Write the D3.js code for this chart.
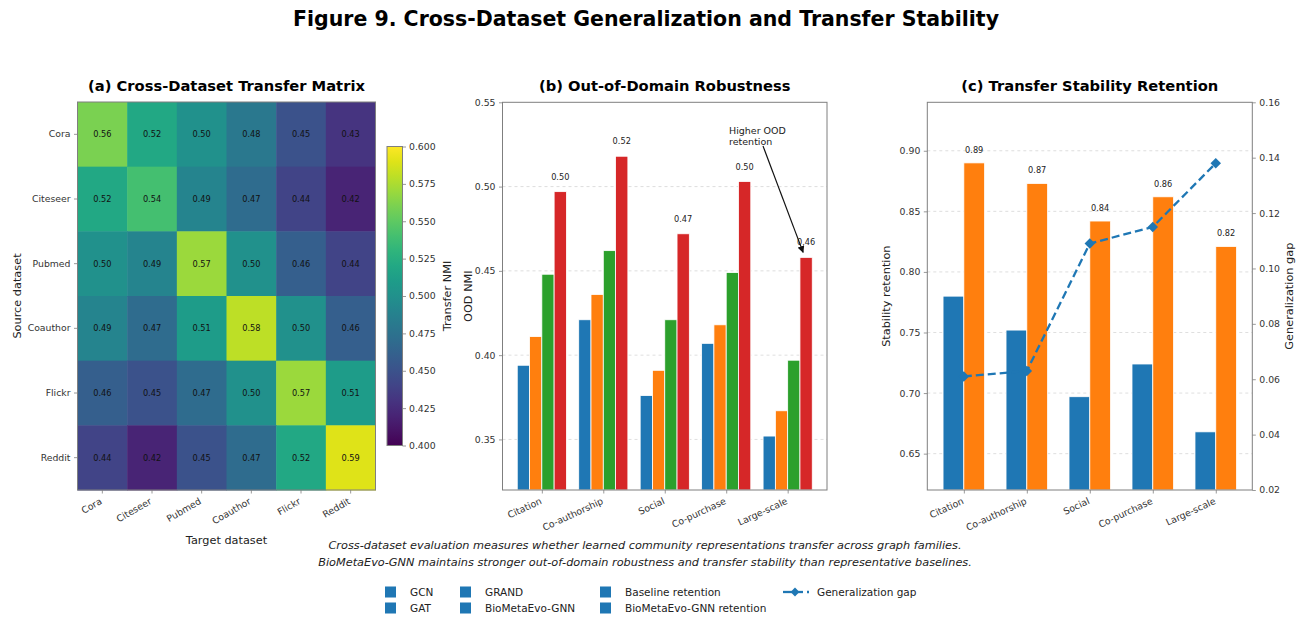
<!DOCTYPE html>
<html>
<head>
<meta charset="utf-8">
<script src="https://cdn.jsdelivr.net/npm/d3@7"></script>
<style>
  html, body { margin: 0; padding: 0; background: #fff; }
  text { font-family: "DejaVu Sans", sans-serif; }
</style>
</head>
<body>
<svg id="chart" width="1306" height="623"></svg>
<script>
// ---------------- DATA ----------------
const datasets = ["Cora", "Citeseer", "Pubmed", "Coauthor", "Flickr", "Reddit"];
const transferMatrix = [
  [0.56, 0.52, 0.50, 0.48, 0.45, 0.43],
  [0.52, 0.54, 0.49, 0.47, 0.44, 0.42],
  [0.50, 0.49, 0.57, 0.50, 0.46, 0.44],
  [0.49, 0.47, 0.51, 0.58, 0.50, 0.46],
  [0.46, 0.45, 0.47, 0.50, 0.57, 0.51],
  [0.44, 0.42, 0.45, 0.47, 0.52, 0.59]
];
const colorbarTicks = [0.400, 0.425, 0.450, 0.475, 0.500, 0.525, 0.550, 0.575, 0.600];

const families = ["Citation", "Co-authorship", "Social", "Co-purchase", "Large-scale"];
const methods = ["GCN", "GAT", "GRAND", "BioMetaEvo-GNN"];
const oodGCN   = [0.394, 0.421, 0.376, 0.407, 0.352];
const oodGAT   = [0.411, 0.436, 0.391, 0.418, 0.367];
const oodGRAND = [0.448, 0.462, 0.421, 0.449, 0.397];
const oodBio   = [0.497, 0.518, 0.472, 0.503, 0.458];
const oodTicks = [0.35, 0.40, 0.45, 0.50, 0.55];

const baselineRetention = [0.780, 0.752, 0.697, 0.724, 0.668];
const bioRetention      = [0.890, 0.873, 0.842, 0.862, 0.821];
const generalizationGap = [0.061, 0.063, 0.109, 0.115, 0.138];
const retentionTicks = [0.65, 0.70, 0.75, 0.80, 0.85, 0.90];
const gapTicks = [0.02, 0.04, 0.06, 0.08, 0.10, 0.12, 0.14, 0.16];

const colors = ["#1f77b4", "#ff7f0e", "#2ca02c", "#d62728"];

// ---------------- SETUP ----------------
const svg = d3.select("#chart");
svg.append("rect").attr("width", 1306).attr("height", 623).attr("fill", "#fff");
const spineColor = "#7f7f7f";
const tickTextColor = "#333";
const TICK_FS = 9.3;

function styleAxis(g, fs) {
  g.selectAll("path.domain").remove();
  g.selectAll(".tick line").attr("stroke", spineColor).attr("stroke-width", 0.8);
  g.selectAll(".tick text").attr("fill", tickTextColor).attr("font-size", fs || TICK_FS)
    .attr("font-family", "DejaVu Sans");
}
function frame(x0, y0, x1, y1) {
  svg.append("rect").attr("x", x0).attr("y", y0).attr("width", x1 - x0).attr("height", y1 - y0)
    .attr("fill", "none").attr("stroke", spineColor).attr("stroke-width", 1);
}
function rotateLabels(g, angle) {
  g.selectAll(".tick text")
    .attr("text-anchor", "end")
    .attr("dy", null)
    .attr("y", 0)
    .attr("transform", `translate(-1,11) rotate(${-angle})`)
    .attr("dominant-baseline", "middle");
}

// Main title
svg.append("text").attr("x", 646).attr("y", 26).attr("text-anchor", "middle")
  .attr("font-size", 20.5).attr("font-weight", "bold").attr("fill", "#000")
  .text("Figure 9. Cross-Dataset Generalization and Transfer Stability");

// ---------------- PANEL A: heatmap ----------------
{
  const L = 77.5, R = 375.5, T = 102, B = 490;
  const x = d3.scaleBand().domain(datasets).range([L, R]);
  const y = d3.scaleBand().domain(datasets).range([T, B]);
  const color = d3.scaleSequential(d3.interpolateViridis).domain([0.4, 0.6]);

  const cells = [];
  transferMatrix.forEach((row, i) => row.forEach((v, j) => cells.push({ s: datasets[i], t: datasets[j], v })));

  svg.append("g").selectAll("rect").data(cells).join("rect")
    .attr("x", d => x(d.t)).attr("y", d => y(d.s))
    .attr("width", x.bandwidth() + 0.5).attr("height", y.bandwidth() + 0.5)
    .attr("fill", d => color(d.v));
  svg.append("g").selectAll("text").data(cells).join("text")
    .attr("x", d => x(d.t) + x.bandwidth() / 2).attr("y", d => y(d.s) + y.bandwidth() / 2)
    .attr("text-anchor", "middle").attr("dominant-baseline", "central")
    .attr("font-size", 8.2).attr("fill", "#111")
    .text(d => d.v.toFixed(2));
  frame(L, T, R, B);

  const gx = svg.append("g").attr("transform", `translate(0,${B})`)
    .call(d3.axisBottom(x).tickSize(3.5).tickPadding(3));
  styleAxis(gx);
  rotateLabels(gx, 30);
  const gy = svg.append("g").attr("transform", `translate(${L},0)`)
    .call(d3.axisLeft(y).tickSize(3.5).tickPadding(3.5));
  styleAxis(gy);

  svg.append("text").attr("x", (L + R) / 2).attr("y", 91).attr("text-anchor", "middle")
    .attr("font-size", 14.7).attr("font-weight", "bold").text("(a) Cross-Dataset Transfer Matrix");
  svg.append("text").attr("x", (L + R) / 2).attr("y", 544).attr("text-anchor", "middle")
    .attr("font-size", 11.3).attr("fill", "#222").text("Target dataset");
  svg.append("text").attr("transform", `translate(20.5,${(T + B) / 2}) rotate(-90)`)
    .attr("text-anchor", "middle").attr("font-size", 11.3).attr("fill", "#222").text("Source dataset");

  // Colorbar
  const cbL = 387, cbR = 402.5, cbT = 146.5, cbB = 445.5;
  const grad = svg.append("defs").append("linearGradient").attr("id", "viridisGrad")
    .attr("x1", "0").attr("y1", "1").attr("x2", "0").attr("y2", "0");
  d3.range(0, 1.0001, 0.05).forEach(t => {
    grad.append("stop").attr("offset", t).attr("stop-color", d3.interpolateViridis(t));
  });
  svg.append("rect").attr("x", cbL).attr("y", cbT).attr("width", cbR - cbL).attr("height", cbB - cbT)
    .attr("fill", "url(#viridisGrad)");
  frame(cbL, cbT, cbR, cbB);
  const cbScale = d3.scaleLinear().domain([0.4, 0.6]).range([cbB, cbT]);
  const gcb = svg.append("g").attr("transform", `translate(${cbR},0)`)
    .call(d3.axisRight(cbScale).tickValues(colorbarTicks).tickFormat(d3.format(".3f")).tickSize(3.5).tickPadding(3));
  styleAxis(gcb);
  svg.append("text").attr("transform", `translate(450.5,${(cbT + cbB) / 2}) rotate(-90)`)
    .attr("text-anchor", "middle").attr("font-size", 11.3).attr("fill", "#222").text("Transfer NMI");
}

// ---------------- PANEL B: grouped bars ----------------
{
  const L = 502.5, R = 827, T = 102.3, B = 490;
  const x = d3.scaleLinear().domain([-0.64, 4.64]).range([L, R]);
  const y = d3.scaleLinear().domain([0.32, 0.55]).range([B, T]);
  const series = [oodGCN, oodGAT, oodGRAND, oodBio];
  const w = 0.2;

  svg.append("g").selectAll("line").data(oodTicks.slice(0, -1)).join("line")
    .attr("x1", L).attr("x2", R).attr("y1", d => y(d)).attr("y2", d => y(d))
    .attr("stroke", "#d0d0d0").attr("stroke-width", 0.7).attr("stroke-dasharray", "3,3");

  series.forEach((vals, si) => {
    svg.append("g").selectAll("rect").data(vals).join("rect")
      .attr("x", (d, i) => x(i + (si - 1.5) * w - w / 2))
      .attr("width", x(w) - x(0))
      .attr("y", d => y(d)).attr("height", d => B - y(d))
      .attr("fill", colors[si]).attr("stroke", "#fff").attr("stroke-width", 0.8);
  });
  svg.append("g").selectAll("text").data(oodBio).join("text")
    .attr("x", (d, i) => x(i + 1.5 * w)).attr("y", d => y(d) - 12)
    .attr("text-anchor", "middle").attr("font-size", 8.2).attr("fill", "#222")
    .text(d => d.toFixed(2));
  frame(L, T, R, B);

  const gx = svg.append("g").attr("transform", `translate(0,${B})`)
    .call(d3.axisBottom(x).tickValues(d3.range(families.length)).tickFormat(i => families[i]).tickSize(3.5));
  styleAxis(gx);
  rotateLabels(gx, 25);
  const gy = svg.append("g").attr("transform", `translate(${L},0)`)
    .call(d3.axisLeft(y).tickValues(oodTicks).tickFormat(d3.format(".2f")).tickSize(3.5).tickPadding(3.5));
  styleAxis(gy);

  svg.append("text").attr("x", (L + R) / 2).attr("y", 91).attr("text-anchor", "middle")
    .attr("font-size", 14.7).attr("font-weight", "bold").text("(b) Out-of-Domain Robustness");
  svg.append("text").attr("transform", `translate(472,${(T + B) / 2}) rotate(-90)`)
    .attr("text-anchor", "middle").attr("font-size", 11.3).attr("fill", "#222").text("OOD NMI");

  // Annotation
  const ann = svg.append("text").attr("x", 729).attr("y", 134).attr("font-size", 9.5).attr("fill", "#222");
  ann.append("tspan").attr("x", 729).attr("dy", 0).text("Higher OOD");
  ann.append("tspan").attr("x", 729).attr("dy", 10.5).text("retention");
  const defs = svg.append("defs");
  defs.append("marker").attr("id", "arrowHead").attr("viewBox", "0 0 10 10")
    .attr("refX", 9).attr("refY", 5).attr("markerWidth", 7).attr("markerHeight", 7)
    .attr("orient", "auto").attr("markerUnits", "userSpaceOnUse")
    .append("path").attr("d", "M0,0 L10,5 L0,10 z").attr("fill", "#111");
  const tx = x(4 + 1.5 * w), ty = y(oodBio[4]);
  svg.append("line").attr("x1", 763).attr("y1", 146).attr("x2", tx - 3).attr("y2", ty - 5)
    .attr("stroke", "#111").attr("stroke-width", 1.2).attr("marker-end", "url(#arrowHead)");
}

// ---------------- PANEL C: retention + gap ----------------
{
  const L = 927.3, R = 1252.3, T = 102.3, B = 490;
  const x = d3.scaleLinear().domain([-0.58, 4.58]).range([L, R]);
  const yL = d3.scaleLinear().domain([0.62, 0.94]).range([B, T]);
  const yR = d3.scaleLinear().domain([0.02, 0.16]).range([B, T]);
  const w = 0.33;

  svg.append("g").selectAll("line").data(retentionTicks).join("line")
    .attr("x1", L).attr("x2", R).attr("y1", d => yL(d)).attr("y2", d => yL(d))
    .attr("stroke", "#d0d0d0").attr("stroke-width", 0.7).attr("stroke-dasharray", "3,3");

  [baselineRetention, bioRetention].forEach((vals, si) => {
    svg.append("g").selectAll("rect").data(vals).join("rect")
      .attr("x", (d, i) => x(i + (si - 0.5) * w - w / 2))
      .attr("width", x(w) - x(0))
      .attr("y", d => yL(d)).attr("height", d => B - yL(d))
      .attr("fill", colors[si]).attr("stroke", "#fff").attr("stroke-width", 0.8);
  });
  svg.append("g").selectAll("text").data(bioRetention).join("text")
    .attr("x", (d, i) => x(i + 0.5 * w)).attr("y", d => yL(d) - 10)
    .attr("text-anchor", "middle").attr("font-size", 8.2).attr("fill", "#222")
    .text(d => d.toFixed(2));

  const line = d3.line().x((d, i) => x(i)).y(d => yR(d));
  svg.append("path").datum(generalizationGap).attr("d", line)
    .attr("fill", "none").attr("stroke", colors[0]).attr("stroke-width", 2.3)
    .attr("stroke-dasharray", "8,4");
  svg.append("g").selectAll("path").data(generalizationGap).join("path")
    .attr("d", d3.symbol(d3.symbolDiamond2, 70))
    .attr("transform", (d, i) => `translate(${x(i)},${yR(d)})`)
    .attr("fill", colors[0]);
  frame(L, T, R, B);

  const gx = svg.append("g").attr("transform", `translate(0,${B})`)
    .call(d3.axisBottom(x).tickValues(d3.range(families.length)).tickFormat(i => families[i]).tickSize(3.5));
  styleAxis(gx);
  rotateLabels(gx, 25);
  const gy = svg.append("g").attr("transform", `translate(${L},0)`)
    .call(d3.axisLeft(yL).tickValues(retentionTicks).tickFormat(d3.format(".2f")).tickSize(3.5).tickPadding(3.5));
  styleAxis(gy);
  const gr = svg.append("g").attr("transform", `translate(${R},0)`)
    .call(d3.axisRight(yR).tickValues(gapTicks).tickFormat(d3.format(".2f")).tickSize(3.5).tickPadding(3.5));
  styleAxis(gr);

  svg.append("text").attr("x", (L + R) / 2).attr("y", 91).attr("text-anchor", "middle")
    .attr("font-size", 14.7).attr("font-weight", "bold").text("(c) Transfer Stability Retention");
  svg.append("text").attr("transform", `translate(890,${(T + B) / 2}) rotate(-90)`)
    .attr("text-anchor", "middle").attr("font-size", 11.3).attr("fill", "#222").text("Stability retention");
  svg.append("text").attr("transform", `translate(1293,${(T + B) / 2}) rotate(-90)`)
    .attr("text-anchor", "middle").attr("font-size", 11.3).attr("fill", "#222").text("Generalization gap");
}

// ---------------- Caption ----------------
svg.append("text").attr("x", 645).attr("y", 549).attr("text-anchor", "middle")
  .attr("font-size", 11.3).attr("font-style", "italic").attr("fill", "#222")
  .text("Cross-dataset evaluation measures whether learned community representations transfer across graph families.");
svg.append("text").attr("x", 645).attr("y", 566).attr("text-anchor", "middle")
  .attr("font-size", 11.3).attr("font-style", "italic").attr("fill", "#222")
  .text("BioMetaEvo-GNN maintains stronger out-of-domain robustness and transfer stability than representative baselines.");

// ---------------- Legend ----------------
const legendItems = [
  { label: "GCN", col: 0, row: 0, type: "sq" },
  { label: "GAT", col: 0, row: 1, type: "sq" },
  { label: "GRAND", col: 1, row: 0, type: "sq" },
  { label: "BioMetaEvo-GNN", col: 1, row: 1, type: "sq" },
  { label: "Baseline retention", col: 2, row: 0, type: "sq" },
  { label: "BioMetaEvo-GNN retention", col: 2, row: 1, type: "sq" },
  { label: "Generalization gap", col: 3, row: 0, type: "line" }
];
const colX = [385, 460, 600, 783];
const rowY = [592, 608];
const lg = svg.append("g");
legendItems.forEach(it => {
  const x0 = colX[it.col], yc = rowY[it.row];
  if (it.type === "sq") {
    lg.append("rect").attr("x", x0).attr("y", yc - 5.5).attr("width", 11).attr("height", 11).attr("fill", colors[0]);
    lg.append("text").attr("x", x0 + 25).attr("y", yc).attr("dominant-baseline", "central")
      .attr("font-size", 10.5).attr("fill", "#222").text(it.label);
  } else {
    lg.append("line").attr("x1", x0).attr("x2", x0 + 20).attr("y1", yc).attr("y2", yc)
      .attr("stroke", colors[0]).attr("stroke-width", 2.3);
    lg.append("line").attr("x1", x0 + 24).attr("x2", x0 + 26).attr("y1", yc).attr("y2", yc)
      .attr("stroke", colors[0]).attr("stroke-width", 2.3);
    lg.append("path").attr("d", d3.symbol(d3.symbolDiamond2, 50))
      .attr("transform", `translate(${x0 + 12},${yc})`).attr("fill", colors[0]);
    lg.append("text").attr("x", x0 + 34).attr("y", yc).attr("dominant-baseline", "central")
      .attr("font-size", 10.5).attr("fill", "#222").text(it.label);
  }
});
</script>
</body>
</html>
